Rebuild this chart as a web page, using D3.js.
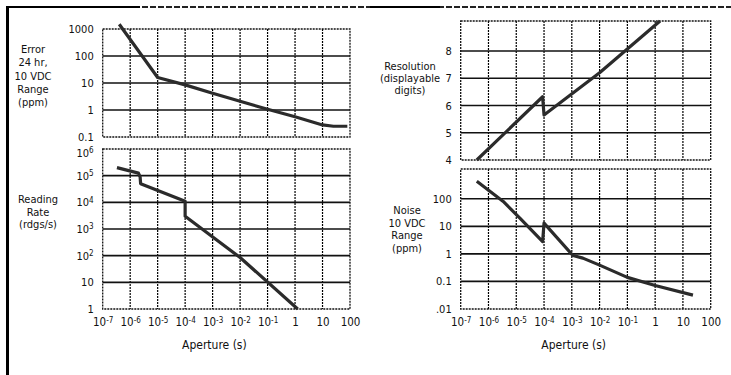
<!DOCTYPE html>
<html>
<head>
<meta charset="utf-8">
<script src="https://cdn.jsdelivr.net/npm/d3@7"></script>
<style>
body { margin: 0; background: #fff; }
svg { display: block; }
text { font-family: "Liberation Sans Narrow", "DejaVu Sans Condensed", "Arial Narrow", sans-serif; fill: #111; }
</style>
</head>
<body>
<script>
// aperture axis, shared by all four panels
const apertureTicks = [1e-7, 1e-6, 1e-5, 1e-4, 1e-3, 1e-2, 1e-1, 1, 10, 100];
const apertureLabels = ["10^-7", "10^-6", "10^-5", "10^-4", "10^-3", "10^-2", "10^-1", "1", "10", "100"];

// Error 24 hr, 10 VDC range (ppm)
const errorAperture = [4e-7, 1e-5, 1e-4, 1e-3, 1e-2, 1e-1, 1, 10, 25, 80];
const errorPpm = [1500, 16, 8.5, 4.2, 2.1, 1.07, 0.56, 0.28, 0.25, 0.25];
const errorTicks = [1000, 100, 10, 1, 0.1];
const errorLabels = ["1000", "100", "10", "1", "0.1"];
const errorTitle = ["Error", "24 hr,", "10 VDC", "Range", "(ppm)"];

// Reading rate (rdgs/s)
const rateAperture = [3.3e-7, 2e-6, 2.3e-6, 2.4e-6, 1e-4, 1e-4, 1e-2, 1.25];
const rateValues = [2e5, 1.25e5, 9e4, 5e4, 1.1e4, 3e3, 85, 1];
const rateTicks = [1e6, 1e5, 1e4, 1e3, 1e2, 10, 1];
const rateLabels = ["10^6", "10^5", "10^4", "10^3", "10^2", "10", "1"];
const rateTitle = ["Reading", "Rate", "(rdgs/s)"];

// Resolution (displayable digits)
const resolutionAperture = [3.8e-7, 8.9e-5, 1e-4, 1e-2, 1.5];
const resolutionDigits = [4, 6.32, 5.65, 7.2, 9.1];
const resolutionTicks = [8, 7, 6, 5, 4];
const resolutionLabels = ["8", "7", "6", "5", "4"];
const resolutionTitle = ["Resolution", "(displayable", "digits)"];

// Noise 10 VDC range (ppm)
const noiseAperture = [3.8e-7, 3.4e-6, 1.35e-5, 8.9e-5, 1e-4, 1.1e-3, 2.5e-3, 1e-2, 1e-1, 1, 23];
const noisePpm = [430, 80, 20, 2.8, 13, 0.87, 0.7, 0.39, 0.14, 0.071, 0.032];
const noiseTicks = [100, 10, 1, 0.1, 0.01];
const noiseLabels = ["100", "10", "1", "0.1", ".01"];
const noiseTitle = ["Noise", "10 VDC", "Range", "(ppm)"];

const width = 731, height = 375;

const svg = d3.select("body").append("svg")
  .attr("width", width)
  .attr("height", height);

// frame of the page (left and top rules)
svg.append("line").attr("x1", 7.5).attr("x2", 7.5).attr("y1", 6).attr("y2", height)
  .attr("stroke", "#000").attr("stroke-width", 3);
svg.append("line").attr("x1", 6).attr("x2", width).attr("y1", 7).attr("y2", 7)
  .attr("stroke", "#222").attr("stroke-width", 2).attr("stroke-dasharray", "6,2");
svg.append("line").attr("x1", 6).attr("x2", 140).attr("y1", 7).attr("y2", 7)
  .attr("stroke", "#000").attr("stroke-width", 2);
svg.append("line").attr("x1", 370).attr("x2", 440).attr("y1", 7).attr("y2", 7)
  .attr("stroke", "#000").attr("stroke-width", 2);

const panels = [
  { xr: [102.7, 350], yr: [137, 29], y: d3.scaleLog().domain([0.1, 1000]),
    ax: errorAperture, ay: errorPpm, ticks: errorTicks, labels: errorLabels,
    title: errorTitle, tx: 33, ty: 49, lh: 13.3, xaxis: false, topShift: 0 },
  { xr: [102.7, 350], yr: [309, 149], y: d3.scaleLog().domain([1, 1e6]),
    ax: rateAperture, ay: rateValues, ticks: rateTicks, labels: rateLabels,
    title: rateTitle, tx: 38, ty: 199, lh: 12.5, xaxis: true, topShift: 4 },
  { xr: [460.7, 710.7], yr: [160, 21], y: d3.scaleLinear().domain([4, 9.1]),
    ax: resolutionAperture, ay: resolutionDigits, ticks: resolutionTicks, labels: resolutionLabels,
    title: resolutionTitle, tx: 410, ty: 66, lh: 12, xaxis: false, topShift: 0 },
  { xr: [460.7, 710.7], yr: [309, 169], y: d3.scaleLog().domain([0.01, 1200]),
    ax: noiseAperture, ay: noisePpm, ticks: noiseTicks, labels: noiseLabels,
    title: noiseTitle, tx: 407, ty: 210, lh: 12.6, xaxis: true, topShift: 0 }
];

// writes "10^-7" style labels as base + raised exponent
const writeLabel = (sel, label) => {
  const parts = label.split("^");
  sel.text(null);
  sel.append("tspan").text(parts[0]);
  if (parts[1]) {
    sel.append("tspan").attr("dy", "-0.45em").attr("font-size", "8px").text(parts[1]);
  }
};

panels.forEach(p => {
  const x = d3.scaleLog().domain([1e-7, 100]).range(p.xr);
  const y = p.y.range(p.yr);
  const g = svg.append("g");

  const [x0, x1] = p.xr;
  const [y0, y1] = p.yr; // y0 bottom, y1 top

  // vertical grid (dotted, halftone look)
  g.selectAll(".vgrid")
    .data(apertureTicks.slice(1, -1))
    .enter().append("line")
    .attr("x1", d => x(d)).attr("x2", d => x(d))
    .attr("y1", y1).attr("y2", y0)
    .attr("stroke", "#000").attr("stroke-width", 1.2)
    .attr("stroke-dasharray", "2,1");

  // horizontal grid (solid)
  const yd = y.domain();
  g.selectAll(".hgrid")
    .data(p.ticks.filter(t => t > yd[0] && t < yd[1]))
    .enter().append("line")
    .attr("x1", x0).attr("x2", x1)
    .attr("y1", d => y(d)).attr("y2", d => y(d))
    .attr("stroke", "#111").attr("stroke-width", 1.7);

  // panel border
  g.append("rect")
    .attr("x", x0).attr("y", y1)
    .attr("width", x1 - x0).attr("height", y0 - y1)
    .attr("fill", "none").attr("stroke", "#111").attr("stroke-width", 1.3)
    .attr("stroke-dasharray", "2,1");

  // y axis labels
  const yAxis = g.append("g")
    .attr("transform", `translate(${x0},0)`)
    .call(d3.axisLeft(y).tickValues(p.ticks).tickSize(0).tickPadding(9));
  yAxis.select(".domain").remove();
  yAxis.attr("font-family", null);
  yAxis.selectAll("text")
    .attr("font-size", "11px")
    .each(function (d, i) { writeLabel(d3.select(this), p.labels[i]); });
  // nudge the top label down so it clears the panel above
  if (p.topShift) {
    yAxis.select(".tick text").attr("y", p.topShift);
  }

  // x axis labels
  if (p.xaxis) {
    const xAxis = g.append("g")
      .attr("transform", `translate(0,${y0})`)
      .call(d3.axisBottom(x).tickValues(apertureTicks).tickSize(0).tickPadding(9));
    xAxis.select(".domain").remove();
    xAxis.attr("font-family", null);
    xAxis.selectAll("text")
      .attr("font-size", "11.5px")
      .each(function (d, i) { writeLabel(d3.select(this), apertureLabels[i]); });

    g.append("text")
      .attr("x", (x0 + x1) / 2 - 12)
      .attr("y", y0 + 40)
      .attr("text-anchor", "middle")
      .attr("font-size", "12px")
      .text("Aperture (s)");
  }

  // panel title
  g.append("text")
    .attr("text-anchor", "middle")
    .attr("font-size", "11px")
    .selectAll("tspan")
    .data(p.title)
    .enter().append("tspan")
    .attr("x", p.tx)
    .attr("y", (d, i) => p.ty + 4 + i * p.lh)
    .text(d => d);

  // curve
  const pts = p.ax.map((a, i) => [a, p.ay[i]]);
  const line = d3.line()
    .x(d => x(d[0]))
    .y(d => y(d[1]));

  g.append("path")
    .datum(pts)
    .attr("d", line)
    .attr("fill", "none")
    .attr("stroke", "#2b2b2b")
    .attr("stroke-width", 3.2)
    .attr("stroke-linejoin", "round");
});
</script>
</body>
</html>
